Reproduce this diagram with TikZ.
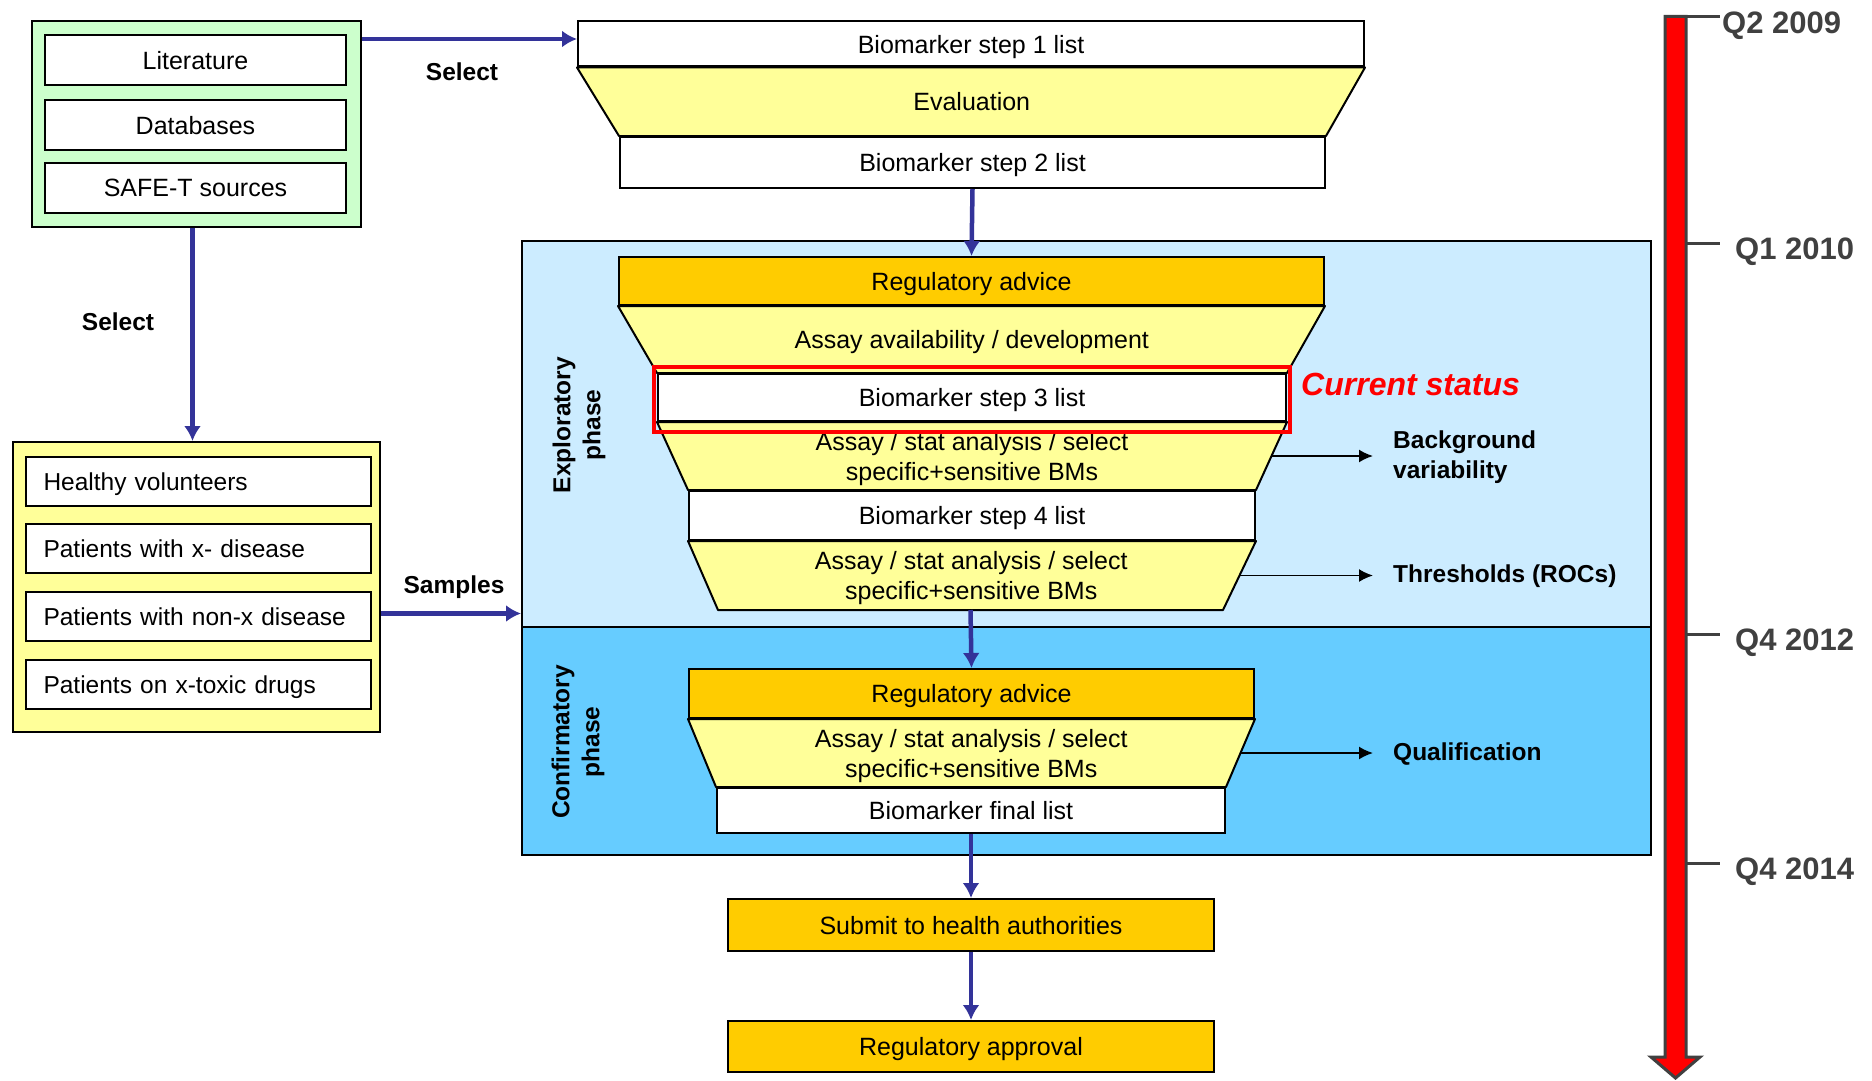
\documentclass[tikz,border=0pt]{standalone}
\usepackage{fontspec}
\setmainfont{Liberation Sans}
\usetikzlibrary{arrows.meta,calc}

\definecolor{srcgreen}{HTML}{CCFFCC}
\definecolor{paleyellow}{HTML}{FFFF99}
\definecolor{gold}{HTML}{FFCC00}
\definecolor{explblue}{HTML}{CCECFF}
\definecolor{confblue}{HTML}{66CCFF}
\definecolor{flowblue}{HTML}{333399}
\definecolor{timegray}{HTML}{404040}

\tikzset{
  txt/.style={font=\fontsize{25}{30}\selectfont,text depth=0pt},
  lbl/.style={font=\bfseries\fontsize{24.5}{30}\selectfont,inner sep=0pt},
  wh/.style 2 args={minimum width=#1,minimum height=#2},
  panel/.style={draw,line width=2pt,inner sep=0pt},
  listbox/.style={draw,line width=2pt,fill=white,inner sep=0pt,txt},
  goldbox/.style={listbox,fill=gold},
  funnel/.style={draw,line width=2pt,fill=paleyellow,line join=round},
  phaselbl/.style={lbl,rotate=90,align=center},
  flow/.style={draw=flowblue,line width=4.5pt,-{Latex[length=15pt,width=17pt]}},
  side/.style={line width=1.8pt,-{Latex[length=14pt,width=13pt]}},
  datelbl/.style={font=\bfseries\fontsize{31}{36}\selectfont,text=timegray,inner sep=0pt,anchor=west},
  tick/.style={draw=timegray,line width=3pt}
}

\begin{document}
\begin{tikzpicture}[x=1pt,y=-1pt]
  \useasboundingbox (0,0) rectangle (1872,1081);

  \node[panel,fill=srcgreen,wh={329}{206}] (sources) at (196.5,124) {};
  \foreach \y/\n/\t in {60/lit/Literature,125/db/Databases,188/safet/SAFE-T sources}
    \node[listbox,wh={301}{50}] (\n) at (195.5,\y) {\t};
  \node[panel,fill=paleyellow,wh={367}{290}] (pop) at (196.5,587) {};
  \foreach \y/\n/\t in {481.5/hv/Healthy volunteers,548.5/xdis/Patients with x- disease,
      616.5/nonx/Patients with non-x disease,684.5/tox/Patients on x-toxic drugs}
    \node[listbox,wh={345}{49},text width=310,align=left,font=\fontsize{24.5}{30}\selectfont] (\n) at (198.5,\y) {\t};

  \node[panel,fill=explblue,wh={1129}{386}] (explo) at (1086.5,434) {};
  \node[panel,fill=confblue,wh={1129}{228}] (confo) at (1086.5,741) {};
  \node[phaselbl] (explolbl) at (579,425) {Exploratory\\phase};
  \node[phaselbl] (confolbl) at (578,742) {Confirmatory\\phase};

  \node[listbox,wh={786}{45}] (step1) at (971,44) {Biomarker step 1 list};
  \node[listbox,wh={705}{51}] (step2) at (972.5,162.5) {Biomarker step 2 list};
  \node[goldbox,wh={705}{48}] (reg1) at (971.5,281) {Regulatory advice};
  \node[listbox,wh={628}{47}] (step3) at (972,397.5) {Biomarker step 3 list};
  \node[listbox,wh={566}{49}] (step4) at (972,515.5) {Biomarker step 4 list};
  \coordinate (t3l) at (718,610);
  \coordinate (t3r) at (1223,610);
  \node[goldbox,wh={565}{49}] (reg2) at (971.5,693.5) {Regulatory advice};
  \node[listbox,wh={508}{45}] (final) at (971,810.5) {Biomarker final list};
  \node[goldbox,wh={486}{52}] (submit) at (971,925) {Submit to health authorities};
  \node[goldbox,wh={486}{51}] (approval) at (971,1046.5) {Regulatory approval};

  \draw[funnel] (step1.south west) -- (step1.south east) -- (step2.north east) -- (step2.north west) -- cycle;
  \node[txt] (eval) at ($(step1.south)!.5!(step2.north)$) {Evaluation};
  \draw[funnel] (reg1.south west) -- (reg1.south east) -- (step3.north east) -- (step3.north west) -- cycle;
  \node[txt] (avail) at ($(reg1.south)!.5!(step3.north)$) {Assay availability / development};
  \draw[funnel] (step3.south west) -- (step3.south east) -- (step4.north east) -- (step4.north west) -- cycle;
  \node[txt,align=center] (assay1) at ($(step3.south)!.5!(step4.north)$) {Assay / stat analysis / select\\specific+sensitive BMs};
  \draw[funnel] (step4.south west) -- (step4.south east) -- (t3r) -- (t3l) -- cycle;
  \coordinate (t3b) at ($(t3l)!.5!(t3r)$);
  \node[txt,align=center] (assay2) at ($(step4.south)!.5!(t3b)$) {Assay / stat analysis / select\\specific+sensitive BMs};
  \draw[funnel] (reg2.south west) -- (reg2.south east) -- (final.north east) -- (final.north west) -- cycle;
  \node[txt,align=center] (assay3) at ($(reg2.south)!.5!(final.north)$) {Assay / stat analysis / select\\specific+sensitive BMs};

  \draw[red,line width=3.5pt] ([shift={(-3,-6)}]step3.north west) rectangle ([shift={(3,10)}]step3.south east);
  \node[font=\bfseries\itshape\fontsize{32}{36}\selectfont,text=red,inner sep=0pt,anchor=west] (current) at (1301,384) {Current status};

  \draw[flow] ([yshift=5pt]sources.east |- step1.west) -- ([yshift=5pt]step1.west);
  \draw[flow] ([xshift=-4pt]sources.south) -- ([xshift=-4pt]pop.north);
  \draw[flow] ([yshift=3pt]pop.east |- nonx) -- ([yshift=3pt]explo.west |- nonx);
  \draw[flow] (step2.south) -- (reg1.north);
  \draw[flow] (t3b) -- (reg2.north);
  \draw[flow] (final.south) -- (submit.north);
  \draw[flow] (submit.south) -- (approval.north);
  \node[lbl] (sel1) at (462,72) {Select};
  \node[lbl] (sel2) at (118,322) {Select};
  \node[lbl] (samp) at (454,587) {Samples};

  \node[lbl,anchor=west,align=left] (bgvar) at (1393,457) {Background\\variability};
  \node[lbl,anchor=west] (roc) at (1393,576) {Thresholds (ROCs)};
  \node[lbl,anchor=west] (qual) at (1393,754) {Qualification};
  \coordinate (o1) at ($(step3.south east)!.5!(step4.north east)$);
  \coordinate (o2) at ($(step4.south east)!.5!(t3r)$);
  \coordinate (o3) at ($(reg2.south east)!.5!(final.north east)$);
  \draw[side,shorten >=20pt] (o1) -- (o1 -| bgvar.west);
  \draw[side,shorten >=20pt] (o2) -- (o2 -| roc.west);
  \draw[side,shorten >=20pt] (o3) -- (o3 -| qual.west);

  \draw[tick,fill=red] (1665,16.5) -- (1686,16.5) -- (1686,1057) -- (1700,1057) -- (1675.5,1078)
    -- (1651,1057) -- (1665,1057) -- cycle;
  \draw[tick] (1686,16.5) -- (1720,16.5);
  \node[datelbl] (q209) at (1722,26) {Q2 2009};
  \foreach \y/\n/\t in {243/q110/Q1 2010,634/q412/Q4 2012,863/q414/Q4 2014} {
    \draw[tick] (1687,\y) -- (1720,\y);
    \node[datelbl] (\n) at (1735,\y+9) {\t};
  }
\end{tikzpicture}
\end{document}
